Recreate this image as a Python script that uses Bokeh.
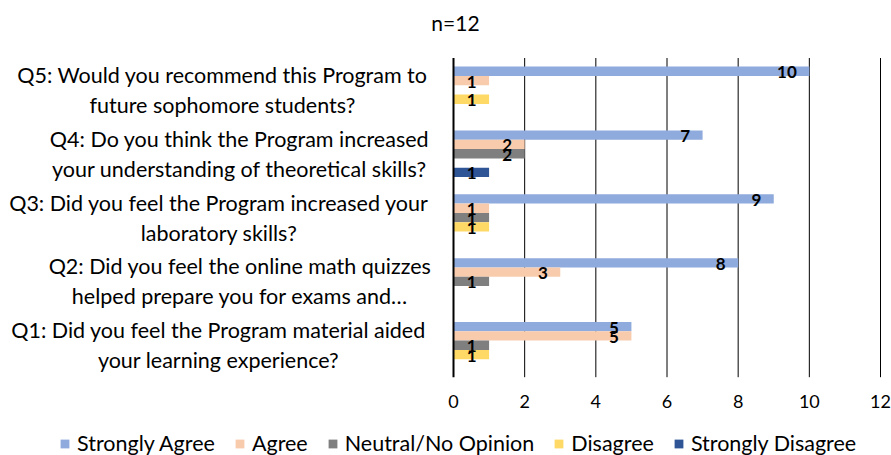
from bokeh.plotting import figure
from bokeh.models import ColumnDataSource, Range1d, Legend, LegendItem
from bokeh.transform import dodge
from bokeh.core.properties import value
from bokeh.embed import file_html
from bokeh.resources import INLINE

# ---------------- data ----------------
questions = [
    "Q1: Did you feel the Program material aided\nyour learning experience?",
    "Q2: Did you feel the online math quizzes\nhelped prepare you for exams and\u2026",
    "Q3: Did you feel the Program increased your\nlaboratory skills?",
    "Q4: Do you think the Program increased\nyour understanding of theoretical skills?",
    "Q5: Would you recommend this Program to\nfuture sophomore students?",
]
series_names = ["Strongly Agree", "Agree", "Neutral/No Opinion", "Disagree", "Strongly Disagree"]
strongly_agree = [5, 8, 9, 7, 10]
agree = [5, 3, 1, 2, 1]
neutral = [1, 1, 1, 2, 0]
disagree = [1, 0, 1, 0, 1]
strongly_disagree = [0, 0, 0, 1, 0]
title_text = "n=12"
x_ticks = [0, 2, 4, 6, 8, 10, 12]
x_tick_labels = ["0", "2", "4", "6", "8", "10", "12"]

# ---------------- layout / style ----------------
colors = ["#8FAADC", "#F8CBAD", "#7F7F7F", "#FFD966", "#2F5597"]
FONT = "Lato"
W, H = 891, 455
PLOT_L, PLOT_R, PLOT_T, PLOT_B = 453.0, 880.0, 57.5, 376.7   # plot area in canvas px
X_MAX, N_CAT = 12.0, len(questions)
SX = (PLOT_R - PLOT_L) / X_MAX
SY = (PLOT_B - PLOT_T) / N_CAT


def dx(px):
    return (px - PLOT_L) / SX


def dy(py):
    return (PLOT_B - py) / SY


BAR_H = 0.146
offsets = [2 * BAR_H, BAR_H, 0.0, -BAR_H, -2 * BAR_H]
label_cx = [218, 239.5, 218.5, 239, 222]   # canvas x centres of category labels

p = figure(width=W, height=H, output_backend="svg", toolbar_location=None,
           x_range=Range1d(dx(0), dx(W)), y_range=Range1d(dy(H), dy(0)),
           x_axis_location=None, y_axis_location=None, min_border=0)
p.outline_line_color = None
p.background_fill_color = "white"
p.border_fill_color = "white"
p.xgrid.visible = False
p.ygrid.visible = False

ypos = [i + 0.5 for i in range(N_CAT)]

# gridlines (drawn at the tick values, spanning the plot area)
p.segment(x0=x_ticks[1:], y0=0, x1=x_ticks[1:], y1=N_CAT, line_color="black", line_width=1)

all_series = [strongly_agree, agree, neutral, disagree, strongly_disagree]
data = dict(y=ypos)
for name, vals in zip(series_names, all_series):
    data[name] = vals
src = ColumnDataSource(data)

items = []
for name, vals, col, off in zip(series_names, all_series, colors, offsets):
    r = p.hbar(y=dodge("y", off), left=0, right=name, height=BAR_H, source=src,
               fill_color=col, line_color=None)
    items.append(LegendItem(label=name, renderers=[r]))

# value axis line at 0
p.segment(x0=[x_ticks[0]], y0=0, x1=[x_ticks[0]], y1=N_CAT, line_color="black", line_width=2)

# data labels for non-zero values
for name, vals, off in zip(series_names, all_series, offsets):
    lx = [v for v in vals if v != 0]
    ly = [y + off for v, y in zip(vals, ypos) if v != 0]
    lt = [str(v) for v in vals if v != 0]
    p.text(x=lx, y=ly, text=lt, x_offset=-12.5, y_offset=1,
           text_align="right", text_baseline="middle",
           text_font=value(FONT), text_font_style="bold",
           text_font_size="17px", text_color="black")

# value tick labels
p.text(x=x_ticks, y=[dy(401)] * len(x_ticks), text=x_tick_labels,
       text_align="center", text_baseline="middle",
       text_font=value(FONT), text_font_size="18px", text_color="black")

# category labels
p.text(x=[dx(c) for c in label_cx], y=ypos, text=questions,
       text_align="center", text_baseline="middle", text_line_height=1.15,
       text_font=value(FONT), text_font_size="21.5px", text_color="black")

# title
p.text(x=[dx(455)], y=[dy(22)], text=[title_text],
       text_align="center", text_baseline="middle",
       text_font=value(FONT), text_font_size="21px", text_color="black")

legend = Legend(items=items, orientation="horizontal", location=(59, -1),
                glyph_width=11, glyph_height=11, label_standoff=7, spacing=19,
                label_height=24, padding=0, margin=0, border_line_color=None,
                background_fill_alpha=0,
                label_text_font=FONT, label_text_font_size="21.5px", label_text_color="black")
p.add_layout(legend, "center")

open("out.html", "w").write(file_html(p, INLINE))
